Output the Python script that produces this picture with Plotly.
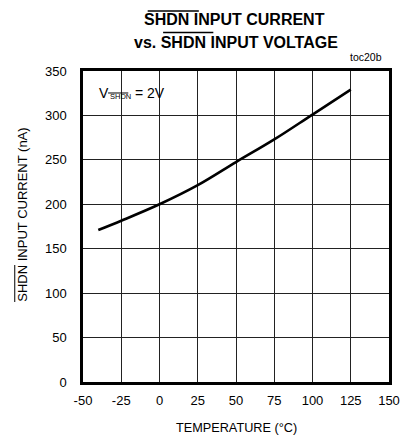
import plotly.graph_objects as go

temps = [-40, -25, 0, 25, 50, 75, 100, 125]
current_nA = [171, 181.5, 200, 221.5, 247.5, 273, 301, 329]

x_ticks = [-50, -25, 0, 25, 50, 75, 100, 125, 150]
y_ticks = [0, 50, 100, 150, 200, 250, 300, 350]

FONT = "Liberation Sans, Arial, sans-serif"

fig = go.Figure()
fig.add_trace(go.Scatter(x=temps, y=current_nA, mode="lines",
                         line=dict(color="black", width=2.6, shape="spline"),
                         showlegend=False, hoverinfo="skip"))

axis_common = dict(showgrid=True, gridcolor="#222222", gridwidth=1,
                   showline=True, linecolor="black", linewidth=2.5, mirror=True,
                   ticks="", zeroline=False,
                   tickfont=dict(family=FONT, size=13, color="black"))

fig.update_xaxes(range=[-50, 150], tickvals=x_ticks, ticktext=[str(v) for v in x_ticks],
                 ticklabelstandoff=5, **axis_common)
fig.update_yaxes(range=[0, 350], tickvals=y_ticks, ticktext=[str(v) for v in y_ticks],
                 ticklabelstandoff=11, **axis_common)

def overline(x0, x1, y, w=1.3):
    return dict(type="line", xref="paper", yref="paper", x0=x0, x1=x1, y0=y, y1=y,
                line=dict(color="black", width=w))

fig.update_layout(
    width=412, height=436,
    margin=dict(l=83, r=12, t=71, b=54),
    paper_bgcolor="white", plot_bgcolor="white",
    font=dict(family=FONT, color="black"),
    annotations=[
        dict(text="<b>SHDN INPUT CURRENT</b>", xref="paper", yref="paper", x=0.495, y=1.164,
             xanchor="center", yanchor="middle", showarrow=False, font=dict(size=16)),
        dict(text="<b>vs. SHDN INPUT VOLTAGE</b>", xref="paper", yref="paper", x=0.5, y=1.093,
             xanchor="center", yanchor="middle", showarrow=False, font=dict(size=16)),
        dict(text="toc20b", xref="paper", yref="paper", x=0.984, y=1.045,
             xanchor="right", yanchor="middle", showarrow=False, font=dict(size=10.5)),
        dict(text="V", xref="paper", yref="paper", x=0.0473, y=0.928,
             xanchor="left", yanchor="middle", showarrow=False, font=dict(size=14)),
        dict(text="SHDN", xref="paper", yref="paper", x=0.082, y=0.9164,
             xanchor="left", yanchor="middle", showarrow=False, font=dict(size=7.5)),
        dict(text="= 2V", xref="paper", yref="paper", x=0.164, y=0.928,
             xanchor="left", yanchor="middle", showarrow=False, font=dict(size=14)),
        dict(text="TEMPERATURE (°C)", xref="paper", yref="paper", x=0.5, y=-0.148,
             xanchor="center", yanchor="middle", showarrow=False, font=dict(size=12.7)),
        dict(text="SHDN INPUT CURRENT (nA)", xref="paper", yref="paper", x=-0.1987, y=0.5386,
             xanchor="center", yanchor="middle", textangle=-90, showarrow=False,
             font=dict(size=13)),
    ],
    shapes=[
        overline(0.2114, 0.3785, 1.193, 1.6),
        overline(0.2618, 0.4259, 1.124, 1.6),
        overline(0.082, 0.148, 0.9293, 1.0),
        dict(type="line", xref="paper", yref="paper", x0=-0.223, x1=-0.223, y0=0.2572, y1=0.3762,
             line=dict(color="black", width=1.0)),
    ],
)

fig.write_html("out.html", config={"displayModeBar": False},
               post_script="document.body.style.margin='0';document.body.style.overflow='hidden';")
